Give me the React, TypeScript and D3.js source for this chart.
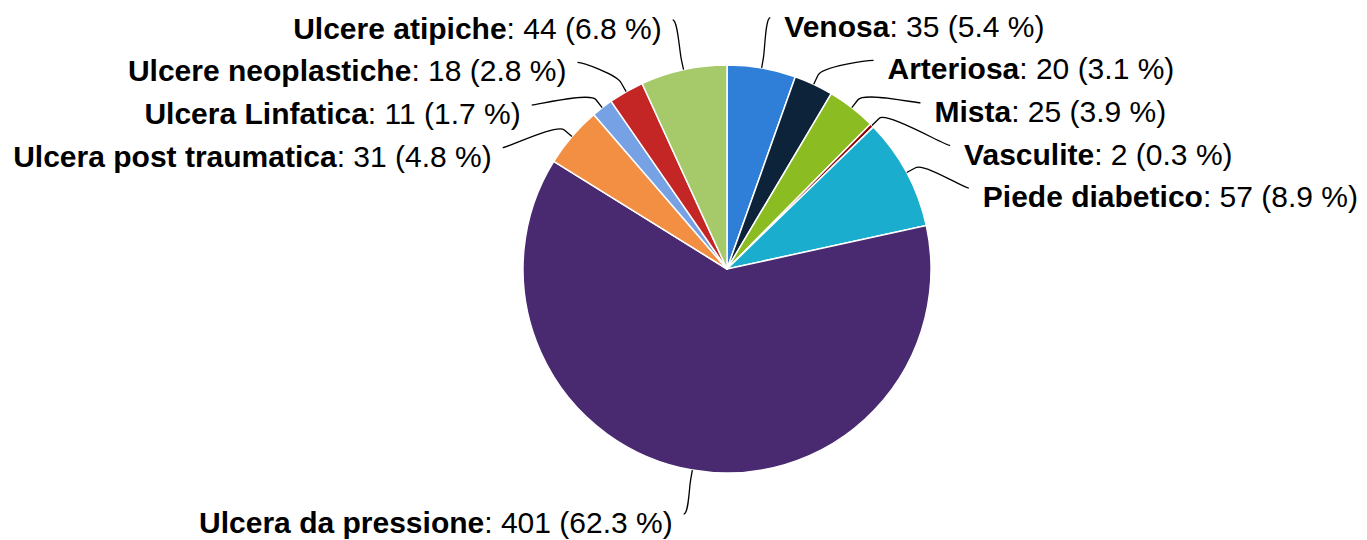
import React from 'react';
import * as d3 from 'd3';

const categories = [
  'Venosa',
  'Arteriosa',
  'Mista',
  'Vasculite',
  'Piede diabetico',
  'Ulcera da pressione',
  'Ulcera post traumatica',
  'Ulcera Linfatica',
  'Ulcere neoplastiche',
  'Ulcere atipiche',
];
const values = [35, 20, 25, 2, 57, 401, 31, 11, 18, 44];
const colors = [
  '#2f7ed8',
  '#0d233a',
  '#8bbc21',
  '#910000',
  '#1aadce',
  '#492970',
  '#f28f43',
  '#77a1e5',
  '#c42525',
  '#a6c96a',
];

const W = 1367;
const H = 540;
const cx = 727;
const cy = 269;
const r = 204;
const labelR = 255;
const lineH = 42.6;
const topBound = 17.5;
const bottomBound = 514;
const connectorOffset = 10;

export default function App() {
  const total = d3.sum(values);
  const pieGen = d3
    .pie<number>()
    .sort(null)
    .value((d) => d);
  const arcs = pieGen(values);
  const arcGen = d3
    .arc<d3.PieArcDatum<number>>()
    .innerRadius(0)
    .outerRadius(r);

  type Lab = { i: number; a: number; right: boolean; y0: number; y: number; x: number };
  const labs: Lab[] = arcs.map((p, i) => {
    const a = (p.startAngle + p.endAngle) / 2;
    return { i, a, right: a < Math.PI, y0: cy - labelR * Math.cos(a), y: 0, x: 0 };
  });
  [true, false].forEach((side) => {
    const group = labs.filter((l) => l.right === side).sort((a, b) => a.y0 - b.y0);
    let prev = -Infinity;
    group.forEach((l) => {
      const yFree = Math.max(l.y0, prev + lineH, topBound);
      const y = Math.min(yFree, bottomBound);
      l.y = y;
      prev = y;
      const dy = yFree - cy;
      const dx = Math.sqrt(Math.max(0, labelR * labelR - dy * dy));
      l.x = cx + (side ? dx : -dx);
    });
  });

  const fmt = (v: number) => `${v} (${((v / total) * 100).toFixed(1)} %)`;

  return (
    <svg
      width={W}
      height={H}
      style={{ position: 'absolute', left: 0, top: 0, background: '#fff' }}
      fontFamily='"Liberation Sans", Arial, Helvetica, sans-serif'
    >
      <g transform={`translate(${cx},${cy})`}>
        {arcs.map((p, i) => (
          <path key={i} d={arcGen(p) || ''} fill={colors[i]} stroke="#fff" strokeWidth={1.5} strokeLinejoin="round" />
        ))}
      </g>
      {labs.map((l) => {
        const s = Math.sin(l.a);
        const c = Math.cos(l.a);
        const Lx = cx + r * s;
        const Ly = cy - r * c;
        const Bx = cx + (r + connectorOffset) * s;
        const By = cy - (r + connectorOffset) * c;
        const C2x = 2 * Bx - Lx;
        const C2y = 2 * By - Ly;
        const C1x = l.right ? l.x - 5 : l.x + 5;
        const d = `M${l.x},${l.y}C${C1x},${l.y} ${C2x},${C2y} ${Bx},${By}L${Lx},${Ly}`;
        const tx = l.right ? l.x + 14 : l.x - 11;
        return (
          <g key={l.i}>
            <path d={d} fill="none" stroke="#000" strokeWidth={1.3} />
            <text x={tx} y={l.y + 19} fontSize={30} fill="#000" textAnchor={l.right ? 'start' : 'end'}>
              <tspan fontWeight="bold">{categories[l.i]}</tspan>
              <tspan>: {fmt(values[l.i])}</tspan>
            </text>
          </g>
        );
      })}
    </svg>
  );
}
